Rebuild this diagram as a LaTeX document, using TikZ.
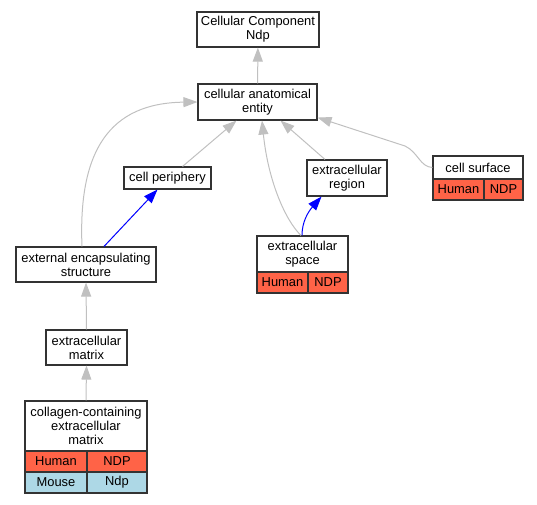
\documentclass[tikz,border=0pt]{standalone}
\usepackage{fontspec}
\setmainfont{Liberation Sans}
\usetikzlibrary{arrows.meta}
\definecolor{hum}{HTML}{FF6347}
\definecolor{mou}{HTML}{ADD8E6}
\definecolor{edg}{HTML}{C0C0C0}
\begin{document}
\begin{tikzpicture}[x=1pt,y=-1pt,
  box/.style={draw=black!80, line width=1.1pt, fill=white, inner sep=0pt, align=center, font=\fontsize{12.9}{14}\selectfont},
  hcell/.style={box, fill=hum},
  mcell/.style={box, fill=mou},
  isa/.style={draw=edg, line width=1pt, -{Triangle[length=14pt,width=10pt]}},
  pof/.style={draw=blue, line width=1pt, -{Triangle[length=14pt,width=10pt]}}]
\useasboundingbox (0,0) rectangle (537,504);
% nodes
\node[box, minimum width=122pt, minimum height=35pt] (cc) at (258,29.5) {Cellular Component\\Ndp};
\node[box, minimum width=119pt, minimum height=36pt] (cae) at (257.5,102) {cellular anatomical\\entity};
\node[box, minimum width=87pt, minimum height=22pt] (cp) at (167.5,178) {cell periphery};
\node[box, minimum width=140pt, minimum height=35pt] (ees) at (86,264.5) {external encapsulating\\structure};
\node[box, minimum width=80pt, minimum height=36pt] (er) at (347,178) {extracellular\\region};
% cell surface
\node[box, minimum width=90pt, minimum height=23pt] (cs) at (478,167.5) {cell surface};
\node[hcell, minimum width=51pt, minimum height=21pt] (csh) at (458.5,189.5) {Human};
\node[hcell, minimum width=39pt, minimum height=21pt] (csn) at (503.5,189.5) {NDP};
% extracellular space
\node[box, minimum width=91pt, minimum height=36pt] (es) at (302.5,254) {extracellular\\space};
\node[hcell, minimum width=51pt, minimum height=21pt] (esh) at (282.5,282.5) {Human};
\node[hcell, minimum width=40pt, minimum height=21pt] (esn) at (328,282.5) {NDP};
% extracellular matrix
\node[box, minimum width=81pt, minimum height=35pt] (em) at (86.5,347.5) {extracellular\\matrix};
% collagen-containing
\node[box, minimum width=122pt, minimum height=50pt] (col) at (86,426) {collagen-containing\\extracellular\\matrix};
\node[hcell, minimum width=62pt, minimum height=21pt] (colh) at (56,461.5) {Human};
\node[hcell, minimum width=60pt, minimum height=21pt] (coln) at (117,461.5) {NDP};
\node[mcell, minimum width=62pt, minimum height=21pt] (colm) at (56,482.5) {Mouse};
\node[mcell, minimum width=60pt, minimum height=21pt] (colp) at (117,482.5) {Ndp};
% edges
\draw[isa] (cae) -- (cc);
\draw[isa] ([xshift=15pt]cp.north) -- ([xshift=-21pt]cae.south);
\draw[isa] ([xshift=-4pt]ees.north) .. controls (78,150) and (110,103) .. (cae.west);
\draw[pof] ([xshift=18pt]ees.north) -- ([xshift=-10pt]cp.south);
\draw[isa] ([xshift=-22pt]er.north) -- ([xshift=23pt]cae.south);
\draw[pof] ([xshift=-0.5pt]es.north) .. controls (302,222) and (308,212) .. ([xshift=-25.5pt]er.south);
\draw[isa] ([xshift=-1.5pt]es.north) .. controls (285,220) and (268,180) .. ([xshift=4.5pt]cae.south);
\draw[isa] (cs.west) .. controls (420,167) and (418,152) .. (405,146) -- ([yshift=3pt]cae.south east);
\draw[isa] (em.north) -- (ees.south);
\draw[isa] (col.north) -- (em.south);
\end{tikzpicture}
\end{document}
